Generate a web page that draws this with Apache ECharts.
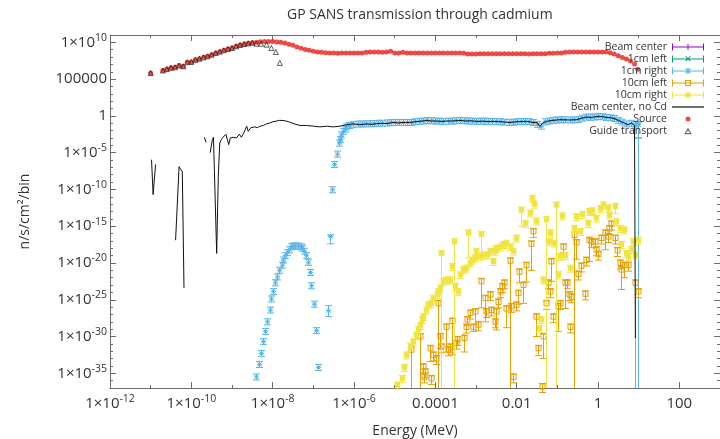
<!DOCTYPE html>
<html><head><meta charset="utf-8">
<script src="https://cdn.jsdelivr.net/npm/echarts@6/dist/echarts.min.js"></script>
<style>html,body{margin:0;padding:0;background:#fff}#c{width:720px;height:439px}</style>
</head><body><div id="c"></div>
<script>
// ---------- tick exponents (decades) ----------
const xMajorExp = [-12, -10, -8, -6, -4, -2, 0, 2];
const yMajorExp = [-35, -30, -25, -20, -15, -10, -5, 0, 5, 10];

// ---------- Source (red dots) ----------
const sourceEnergy = [
 1e-11, 2e-11, 2.51e-11, 3.16e-11, 3.98e-11, 5.01e-11, 6.31e-11, 7.94e-11,
 1e-10, 1.26e-10, 1.58e-10, 2e-10, 2.51e-10, 3.16e-10, 3.98e-10, 5.01e-10, 6.31e-10, 7.94e-10,
 1e-9, 1.26e-9, 1.58e-9, 2e-9, 2.51e-9, 3.16e-9, 3.98e-9, 5.01e-9, 6.31e-9, 7.94e-9,
 1e-8, 1.26e-8, 1.58e-8, 2e-8, 2.51e-8, 3.16e-8, 3.98e-8, 5.01e-8, 6.31e-8, 7.94e-8,
 1e-7, 1.26e-7, 1.58e-7, 2e-7, 2.51e-7, 3.16e-7, 3.98e-7, 5.01e-7, 6.31e-7, 7.94e-7,
 1e-6, 1.26e-6, 1.58e-6, 2e-6, 2.51e-6, 3.16e-6, 3.98e-6, 5.01e-6, 6.31e-6, 7.94e-6,
 1e-5, 1.26e-5, 1.58e-5, 2e-5, 2.51e-5, 3.16e-5, 3.98e-5, 5.01e-5, 6.31e-5, 7.94e-5,
 1e-4, 1.26e-4, 1.58e-4, 2e-4, 2.51e-4, 3.16e-4, 3.98e-4, 5.01e-4, 6.31e-4, 7.94e-4,
 1e-3, 1.26e-3, 1.58e-3, 2e-3, 2.51e-3, 3.16e-3, 3.98e-3, 5.01e-3, 6.31e-3, 7.94e-3,
 0.01, 0.0126, 0.0158, 0.02, 0.0251, 0.0316, 0.0398, 0.0501, 0.0631, 0.0794,
 0.1, 0.126, 0.158, 0.2, 0.251, 0.316, 0.398, 0.501, 0.631, 0.794,
 1, 1.26, 1.58, 2, 2.51, 3.16, 3.98, 5.01, 6.31, 7.94,
 9.55
];
const sourceFlux = [
 6.8e5, 1.5e6, 2.3e6, 3.5e6, 4.0e6, 7.1e6, 5.5e6, 2.0e7,
 2.2e7, 4.2e7, 6.0e7, 9.1e7, 1.26e8, 2.1e8, 3.5e8, 5.4e8, 8.3e8, 1.26e9,
 1.7e9, 2.9e9, 4.4e9, 6.0e9, 7.4e9, 9.1e9, 1.0e10, 1.2e10, 1.26e10, 1.26e10,
 1.26e10, 1.1e10, 1.0e10, 8.1e9, 5.6e9, 4.0e9, 2.3e9, 1.55e9, 1.1e9, 8.3e8,
 6.0e8, 4.9e8, 4.4e8, 4.0e8, 3.5e8, 3.5e8, 3.4e8, 3.5e8, 3.5e8, 3.5e8,
 3.5e8, 3.5e8, 3.6e8, 4.4e8, 4.9e8, 4.9e8, 4.9e8, 4.4e8, 4.9e8, 6.0e8,
 3.5e8, 3.5e8, 4.4e8, 3.5e8, 3.5e8, 3.5e8, 3.5e8, 3.5e8, 3.5e8, 3.5e8,
 3.5e8, 3.5e8, 3.5e8, 3.5e8, 3.5e8, 3.5e8, 3.5e8, 3.4e8, 2.6e8, 2.6e8,
 2.6e8, 2.9e8, 2.9e8, 2.9e8, 2.9e8, 2.9e8, 2.8e8, 2.9e8, 2.9e8, 2.9e8,
 2.9e8, 2.9e8, 2.9e8, 2.6e8, 2.8e8, 2.9e8, 2.9e8, 2.9e8, 3.2e8, 3.2e8,
 3.5e8, 3.5e8, 4.4e8, 4.9e8, 4.9e8, 4.9e8, 4.9e8, 4.9e8, 4.9e8, 4.9e8,
 4.9e8, 4.9e8, 4.9e8, 4.0e8, 2.6e8, 1.5e8, 9.0e7, 5.5e7, 3.0e7, 1.1e7,
 2.2e6
];

// ---------- Guide transport (open triangles) ----------
const guideEnergy = [
 1e-11, 2e-11, 2.51e-11, 3.16e-11, 3.98e-11, 5.01e-11, 6.31e-11, 7.94e-11,
 1e-10, 1.26e-10, 1.58e-10, 2e-10, 2.51e-10, 3.16e-10, 3.98e-10, 5.01e-10, 6.31e-10, 7.94e-10,
 1e-9, 1.26e-9, 1.58e-9, 2e-9, 2.51e-9, 3.16e-9, 4.0e-9, 5.2e-9, 7.1e-9, 9.3e-9, 1.2e-8, 1.5e-8
];
const guideFlux = [
 6.8e5, 1.5e6, 2.3e6, 3.5e6, 4.0e6, 7.1e6, 5.5e6, 2.0e7,
 2.2e7, 4.2e7, 6.0e7, 9.1e7, 1.26e8, 2.1e8, 3.5e8, 5.4e8, 8.3e8, 1.26e9,
 1.7e9, 2.9e9, 4.4e9, 6.0e9, 7.4e9, 9.1e9, 6.6e9, 6.6e9, 4.9e9, 1.7e9, 4.9e8, 1.6e7
];

// ---------- Beam center, no Cd (black line, null = gap) ----------
const noCdEnergy = [
 1.05e-11, 1.15e-11, 1.32e-11, 2e-11, 4.1e-11, 5.0e-11, 5.5e-11, 6.0e-11, 6.6e-11, 1e-10,
 2.1e-10, 2.3e-10, 2.6e-10, 2.9e-10, 3.3e-10, 3.5e-10, 4.2e-10, 4.6e-10, 5.0e-10, 5.5e-10,
 6.0e-10, 7.1e-10, 7.6e-10, 8.3e-10, 9.1e-10, 1.07e-9, 1.29e-9, 1.51e-9, 1.7e-9, 1.95e-9,
 2.3e-9, 2.5e-9, 2.9e-9, 3.6e-9, 4.2e-9, 4.9e-9, 5.9e-9, 7.1e-9, 8.5e-9, 1.02e-8,
 1.25e-8, 1.5e-8, 2.0e-8, 2.6e-8, 3.5e-8, 4.7e-8, 6.8e-8, 1e-7, 1.45e-7, 2.1e-7,
 3.1e-7, 4.5e-7, 6.6e-7, 9.5e-7, 1.38e-6, 2.0e-6, 2.8e-6, 3.5e-6, 5.0e-6, 6.5e-6,
 9.1e-6, 1.2e-5, 1.6e-5, 2.3e-5, 3.0e-5, 4.0e-5, 6.0e-5, 8.0e-5, 1.0e-4, 1.55e-4,
 2.0e-4, 2.5e-4, 4.0e-4, 5.5e-4, 7.0e-4, 1.02e-3, 1.5e-3, 2.0e-3, 2.63e-3, 4.0e-3,
 6.8e-3, 8.5e-3, 1.12e-2, 1.74e-2, 2.5e-2, 3.2e-2, 3.7e-2, 4.5e-2, 5.4e-2, 7.9e-2,
 0.115, 0.2, 0.295, 0.4, 0.513, 0.7, 0.85, 1.1, 1.6, 2.34,
 3.16, 4.07, 5.5, 6.6, 7.9, 8.3
];
const noCdFlux = [
 1.1e-6, 2.0e-11, 2.5e-7, null, 1.26e-17, 1.26e-7, 7.9e-8, 2.5e-8, 4.0e-24, null,
 1.26e-3, 2.5e-4, null, 1e-5, 6.3e-4, 1.26e-3, 2.0e-19, 6.3e-9, 2.0e-4, 6.3e-4,
 1.26e-3, 3.2e-3, 2.5e-3, 1.26e-4, 1e-3, 1.26e-3, 1e-3, 3.2e-3, 1.26e-3, 5.0e-3,
 4.0e-2, 7.9e-3, 2.5e-2, 3.2e-2, 2.5e-2, 4.0e-2, 5.0e-2, 8.5e-2, 0.11, 0.16,
 0.2, 0.25, 0.22, 0.145, 0.079, 0.05, 0.05, 0.04, 0.032, 0.04,
 0.032, 0.04, 0.063, 0.085, 0.063, 0.079, 0.07, 0.085, 0.1, 0.09,
 0.13, 0.11, 0.126, 0.13, 0.15, 0.18, 0.24, 0.2, 0.2, 0.18,
 0.21, 0.2, 0.24, 0.2, 0.22, 0.18, 0.19, 0.17, 0.18, 0.16,
 0.13, 0.15, 0.16, 0.18, 0.13, 0.12, 0.037, 0.12, 0.18, 0.25,
 0.3, 0.28, 0.3, 0.5, 0.69, 0.63, 0.75, 0.85, 0.63, 0.5,
 0.25, 0.13, 0.063, 0.107, 0.05, 6.3e-31
];

// ---------- 1cm right (light blue asterisks) ----------
const rightEnergy = [
 3.98e-9, 4.57e-9, 5.13e-9, 5.89e-9, 6.46e-9, 7.41e-9, 8.51e-9, 9.33e-9,
 1.02e-8, 1.12e-8, 1.29e-8, 1.45e-8, 1.66e-8, 1.82e-8, 2.0e-8, 2.19e-8, 2.51e-8, 2.82e-8,
 3.16e-8, 3.63e-8, 4.27e-8, 4.9e-8, 5.37e-8, 5.89e-8, 6.61e-8, 7.24e-8, 8.13e-8, 8.91e-8,
 1.02e-7, 1.15e-7, 1.29e-7, 2.29e-7, 2.57e-7, 2.88e-7, 3.24e-7, 3.72e-7, 4.27e-7, 4.47e-7,
 4.9e-7, 5.37e-7, 5.89e-7, 6.46e-7, 7.59e-7, 9.55e-7,
 1.26e-6, 1.58e-6, 2e-6, 2.51e-6, 3.16e-6, 3.98e-6, 5.01e-6, 6.31e-6, 7.94e-6,
 1e-5, 1.26e-5, 1.58e-5, 2e-5, 2.51e-5, 3.16e-5, 3.98e-5, 5.01e-5, 6.31e-5, 7.94e-5,
 1e-4, 1.26e-4, 1.58e-4, 2e-4, 2.51e-4, 3.16e-4, 3.98e-4, 5.01e-4, 6.31e-4, 7.94e-4,
 1e-3, 1.26e-3, 1.58e-3, 2e-3, 2.51e-3, 3.16e-3, 3.98e-3, 5.01e-3, 6.31e-3, 7.94e-3,
 0.01, 0.0126, 0.0158, 0.02, 0.0251, 0.0316, 0.0398, 0.0501, 0.0631, 0.0794,
 0.1, 0.126, 0.158, 0.2, 0.251, 0.316, 0.398, 0.501, 0.631, 0.794,
 1, 1.26, 1.58, 2, 2.51, 3.16, 3.98, 5.01, 6.31, 7.94,
 9.55
];
const rightFlux = [
 3.2e-36, 1.6e-34, 5.0e-33, 2.0e-31, 5.0e-30, 1e-28, 4.0e-27, 1.26e-25,
 1.26e-24, 2.0e-23, 1.26e-22, 1e-21, 5.0e-21, 2.5e-20, 1e-19, 2.5e-19, 6.3e-19, 1.6e-18,
 2.0e-18, 2.0e-18, 2.0e-18, 1.6e-18, 1e-18, 4.0e-19, 1e-19, 1.26e-20, 5.0e-22, 7.9e-24,
 2.5e-26, 6.3e-30, 6.3e-35, 3.2e-27, 4.0e-17, 8.9e-11, 2.5e-7, 6.3e-6, 2.0e-4, 6.3e-4,
 2.5e-3, 7.9e-3, 1.6e-2, 3.2e-2, 5.0e-2, 6.3e-2,
 0.079, 0.079, 0.085, 0.085, 0.09, 0.1, 0.1, 0.11, 0.12,
 0.13, 0.13, 0.126, 0.13, 0.13, 0.16, 0.18, 0.2, 0.24, 0.22,
 0.2, 0.19, 0.18, 0.19, 0.2, 0.22, 0.24, 0.22, 0.2, 0.19,
 0.18, 0.19, 0.19, 0.18, 0.18, 0.17, 0.16, 0.14, 0.13, 0.14,
 0.16, 0.17, 0.18, 0.16, 0.13, 0.07, 0.04, 0.16, 0.2, 0.25,
 0.28, 0.3, 0.29, 0.28, 0.29, 0.32, 0.5, 0.69, 0.66, 0.7,
 0.85, 0.75, 0.63, 0.55, 0.45, 0.25, 0.14, 0.08, 0.1, 0.06,
 0.07
];
const rightBarEnergy = [2.29e-7, 2.57e-7, 9.55];
const rightBarLow = [5e-28, 4e-18, 0];
const rightBarHigh = [1.6e-26, 6.3e-17, null];

// ---------- 1cm left (green) ----------
const left1Energy = [9.8];
const left1Flux = [0.06];
const left1BarEnergy = [9.8];
const left1BarLow = [1e-3];

// ---------- Beam center (purple): no visible points ----------
const beamEnergy = [];
const beamFlux = [];

// ---------- 10cm left (orange open squares) ----------
const left10Energy = [
 2.57e-5, 4.17e-5, 5.01e-5, 5.25e-5, 5.5e-5, 7.24e-5, 7.94e-5, 8.71e-5, 1.02e-4, 1.17e-4,
 1.29e-4, 1.41e-4, 1.82e-4, 2.04e-4, 2.24e-4, 2.63e-4, 3.16e-4, 3.47e-4, 5.01e-4, 5.62e-4,
 6.03e-4, 7.08e-4, 8.51e-4, 9.33e-4, 1.12e-3, 1.32e-3, 1.66e-3, 1.78e-3, 2.19e-3, 2.4e-3,
 2.88e-3, 3.02e-3, 3.47e-3, 3.98e-3, 4.47e-3, 5.01e-3, 5.5e-3, 6.76e-3, 7.41e-3, 8.13e-3,
 9.77e-3, 1.05e-2, 1.17e-2, 1.45e-2, 1.74e-2, 2.29e-2, 2.51e-2, 2.95e-2, 3.39e-2, 4.27e-2,
 4.37e-2, 5.13e-2, 5.89e-2, 6.46e-2, 7.08e-2, 7.76e-2, 0.102, 0.115, 0.138, 0.151,
 0.174, 0.195, 0.2, 0.219, 0.263, 0.295, 0.324, 0.372, 0.468, 0.513,
 0.589, 0.676, 0.832, 0.871, 1.0, 1.2, 1.45, 1.78, 1.91, 2.14,
 2.69, 2.88, 3.39, 3.72, 4.47, 5.5, 8.32, 9.55
];
const left10Flux = [
 1.6e-32, 1e-30, 7.9e-35, 3.2e-36, 1.6e-35, 2.5e-32, 2.0e-36, 3.2e-33, 1e-33, 3.2e-26,
 1e-30, 4.0e-32, 2.0e-29, 1.6e-32, 4.0e-32, 1.26e-28, 1.26e-31, 4.0e-31, 6.3e-31, 2.0e-29,
 2.0e-28, 1.6e-27, 2.0e-29, 2.5e-27, 4.0e-29, 3.2e-23, 1.6e-25, 2.5e-27, 5.0e-25, 4.0e-27,
 1e-28, 2.5e-27, 5.0e-26, 1.26e-24, 6.3e-24, 2.0e-23, 6.3e-27, 2.0e-20, 1.26e-26, 3.2e-36,
 2.0e-26, 7.9e-25, 6.3e-22, 1e-23, 5.0e-21, 4.0e-18, 2.0e-16, 5.0e-28, 2.5e-32, 1.6e-37,
 1e-30, 3.2e-26, 2.0e-23, 1.26e-24, 1.6e-20, 5.0e-28, 1.26e-26, 3.2e-26, 1.6e-18, 2.0e-23,
 2.0e-23, 5.0e-25, 2.0e-29, 2.5e-25, 6.3e-17, 6.3e-18, 3.2e-22, 4.0e-21, 6.3e-25, 2.5e-20,
 1.26e-17, 7.9e-18, 7.9e-18, 6.3e-19, 1.6e-19, 2.5e-17, 1.26e-16, 4.0e-17, 5.0e-16, 2.0e-15,
 2.5e-17, 5.0e-19, 1e-20, 1.26e-21, 5.0e-21, 5.0e-21, 2.0e-23, 1.26e-24
];
const left10BarEnergy = [2.57e-5, 4.17e-5, 7.24e-5, 1.17e-4, 1.29e-4, 1.82e-4, 2.63e-4, 5.01e-4, 8.51e-4, 9.33e-4,
 1.32e-3, 1.66e-3, 3.02e-3, 5.5e-3, 6.76e-3, 1.05e-2, 1.17e-2, 1.45e-2, 1.74e-2, 2.29e-2,
 2.95e-2, 3.39e-2, 4.37e-2, 7.08e-2, 0.102, 0.151, 0.263, 0.295, 0.589, 1.45, 3.72, 4.47, 8.32];
const left10BarLow = [0, 0, 4.0e-34, 0, 2.5e-32, 7.9e-33, 3.2e-33, 7.9e-33, 5.0e-30, 4.0e-29,
 7.9e-27, 1e-28, 7.9e-30, 1.6e-29, 0, 2.5e-26, 2.0e-23, 3.2e-26, 2.5e-23, 1e-21,
 1e-30, 2.5e-33, 1e-33, 3.2e-23, 5.0e-30, 6.3e-27, 0, 3.2e-20, 1.6e-20, 6.3e-19, 2.5e-24, 1e-22, 0];

// ---------- 10cm right (yellow filled squares) ----------
const right10Energy = [
 1.12e-5, 1.48e-5, 1.66e-5, 1.95e-5, 2.4e-5, 2.82e-5, 3.31e-5, 3.8e-5, 4.17e-5, 4.57e-5,
 5.01e-5, 6.03e-5, 6.61e-5, 7.94e-5, 8.71e-5, 1.07e-4, 1.17e-4, 1.29e-4, 1.41e-4, 1.55e-4,
 1.86e-4, 2.24e-4, 2.63e-4, 2.82e-4, 3.02e-4, 3.63e-4, 3.98e-4, 4.79e-4, 5.75e-4, 6.46e-4,
 7.08e-4, 8.13e-4, 9.33e-4, 1.02e-3, 1.23e-3, 1.32e-3, 1.48e-3, 1.82e-3, 2.19e-3, 2.63e-3,
 2.88e-3, 3.16e-3, 3.8e-3, 4.57e-3, 5.5e-3, 6.76e-3, 8.13e-3, 9.77e-3, 1.26e-2, 1.58e-2,
 2.09e-2, 2.4e-2, 2.69e-2, 3.02e-2, 3.55e-2, 4.07e-2, 4.37e-2, 5.13e-2, 6.17e-2, 6.46e-2,
 8.51e-2, 9.33e-2, 0.102, 0.115, 0.132, 0.158, 0.2, 0.263, 0.295, 0.355,
 0.407, 0.562, 0.617, 0.724, 0.912, 1.1, 1.32, 1.78, 1.91, 2.69,
 2.82, 3.39, 3.72, 4.47, 4.79, 5.5, 6.61, 7.24, 7.94, 9.55
];
const right10Flux = [
 2.5e-37, 2.0e-36, 6.3e-35, 3.2e-33, 5.0e-32, 2.0e-31, 1.6e-30, 1e-29, 3.2e-29, 2.0e-28,
 5.0e-28, 4.0e-27, 2.0e-26, 3.2e-26, 1.6e-25, 5.0e-25, 1.26e-24, 4.0e-24, 2.0e-19, 3.2e-23,
 5.0e-23, 5.0e-23, 3.2e-21, 7.9e-18, 6.3e-24, 1.26e-24, 2.5e-22, 1.26e-21, 2.0e-21, 1.26e-16,
 1e-20, 2.5e-20, 5.0e-20, 4.0e-19, 7.9e-20, 7.9e-17, 1.26e-19, 1.26e-19, 4.0e-19, 1.6e-20,
 4.0e-19, 1e-18, 1.6e-18, 3.2e-18, 5.0e-18, 1.6e-18, 4.0e-19, 2.5e-17, 1.6e-13, 2.5e-15,
 6.3e-14, 6.3e-12, 1e-12, 5.0e-15, 1.26e-29, 2.0e-28, 5.0e-23, 7.9e-15, 7.9e-18, 1.26e-16,
 5.0e-18, 7.9e-13, 2.5e-22, 7.9e-20, 2.5e-14, 1e-19, 2.0e-21, 5.0e-16, 2.0e-14, 2.0e-16,
 4.0e-14, 2.5e-15, 1e-13, 1.26e-13, 1.26e-14, 2.5e-13, 7.9e-13, 3.2e-13, 3.2e-14, 5.0e-13,
 4.0e-15, 5.0e-16, 3.2e-18, 3.2e-16, 2.0e-19, 7.9e-20, 6.3e-19, 7.9e-18, 1.26e-19, 1.26e-17
];
const right10BarEnergy = [1.41e-4, 2.82e-4, 6.46e-4, 1.32e-3, 1.26e-2, 5.13e-2, 9.33e-2, 2.69];
const right10BarLow = [0, 0, 5.0e-20, 1.6e-19, 1e-15, 0, 0, 5.0e-14];

// ---------- styling ----------
const FONT = '"Open Sans", "DejaVu Sans", sans-serif';
const AX = '#6b6b6b';
const TXT = '#333';
const C = { beam: '#9400d3', left1: '#009e73', right1: '#56b4e9', left10: '#e69f00', right10: '#f0e442', nocd: '#111', source: '#e8211c', guide: '#222' };

function expLabel(n) {
  if (n >= -4 && n <= 5) return n >= 0 ? '1' + '0'.repeat(n) : '0.' + '0'.repeat(-n - 1) + '1';
  return '1×10{s|' + n + '}';
}
const labelStyle = {
  fontSize: 15, color: TXT, fontFamily: FONT, lineHeight: 20,
  rich: { s: { fontSize: 10.5, color: TXT, fontFamily: FONT, verticalAlign: 'top', lineHeight: 11 } }
};

function pairs(E, F) { return E.map((e, i) => [e, F[i]]); }
function withBars(E, F, bE, bLo, bHi) {
  return E.map((e, i) => {
    const k = bE ? bE.indexOf(e) : -1;
    return [e, F[i], k >= 0 && bLo ? bLo[k] : null, k >= 0 && bHi ? bHi[k] : null];
  });
}
function ln(x1, y1, x2, y2, s) { return { type: 'line', shape: { x1, y1, x2, y2 }, style: s }; }
function markerShapes(kind, x, y, color) {
  const s = { stroke: color, lineWidth: 1, fill: 'none' };
  const r = 2.5, d = 2;
  if (kind === 'plus') return [ln(x - r, y, x + r, y, s), ln(x, y - r, x, y + r, s)];
  if (kind === 'cross') return [ln(x - d, y - d, x + d, y + d, s), ln(x - d, y + d, x + d, y - d, s)];
  if (kind === 'star') return [ln(x - r, y, x + r, y, s), ln(x, y - r, x, y + r, s), ln(x - d, y - d, x + d, y + d, s), ln(x - d, y + d, x + d, y - d, s)];
  if (kind === 'openSquare') return [{ type: 'rect', shape: { x: x - r, y: y - r, width: 2 * r, height: 2 * r }, style: s }];
  return [{ type: 'rect', shape: { x: x - r, y: y - r, width: 2 * r, height: 2 * r }, style: { fill: color, stroke: color, lineWidth: 0.5 } }];
}
function glyph(kind, color, up, down) {
  return function (params, api) {
    const e = api.value(0), f = api.value(1), lo = api.value(2), hi = api.value(3);
    const p = api.coord([e, f]);
    const cs = params.coordSys;
    const bottom = cs.y + cs.height;
    const x = Math.round(p[0]) + 0.5, y = p[1];
    let yTop = y - up, yBot = y + down, botCap = true;
    if (hi != null && !isNaN(hi)) yTop = api.coord([e, hi])[1];
    if (lo != null && !isNaN(lo)) {
      if (lo > 0) yBot = Math.min(api.coord([e, lo])[1], bottom);
      else { yBot = bottom; botCap = false; }
    }
    const st = { stroke: color, lineWidth: 1, fill: 'none' };
    const kids = [ln(x, yTop, x, yBot, st), ln(x - 3.5, yTop, x + 3.5, yTop, st)];
    if (botCap) kids.push(ln(x - 3.5, yBot, x + 3.5, yBot, st));
    return { type: 'group', children: kids.concat(markerShapes(kind, x, y, color)) };
  };
}
function errSeries(name, data, kind, color, up, down) {
  return { name, type: 'custom', xAxisIndex: 0, yAxisIndex: 0, data, renderItem: glyph(kind, color, up, down),
    itemStyle: { color }, silent: true };
}

// legend icons (32x10 boxes)
const ERR = 'M0,4.5h32v1h-32z M0,1.5h1v7h-1z M31,1.5h1v7h-1z';
const PLUS = ' M15.5,2h1v6h-1z';
const XX = ' M13.3,2.7l0.7,-0.7l4.7,4.7l-0.7,0.7z M18,2l0.7,0.7l-4.7,4.7l-0.7,-0.7z';
const ICON = {
  beam: 'path://' + ERR + PLUS,
  left1: 'path://' + ERR + XX,
  right1: 'path://' + ERR + PLUS + XX,
  left10: 'path://' + ERR + ' M13,2h6v6h-6z M14,3v4h4v-4z',
  right10: 'path://' + ERR + ' M13.5,2.5h5v5h-5z',
  nocd: 'path://M0,4.4h32v1.2h-32z',
  source: 'path://M0,0M32,10M13.5,5a2.5,2.5,0,1,0,5,0a2.5,2.5,0,1,0,-5,0z',
  guide: 'path://M0,0M32,10M16,1.8L19.6,8.2H12.4Z M16,3.9L13.9,7.3H18.1Z'
};

function decoAxis(dim, pos, min, max, major, withLabels, extra) {
  const base = {
    type: 'value', min, max, position: pos,
    axisLine: { show: !!major, onZero: false, lineStyle: { color: AX, width: 1 } },
    axisTick: { show: true, inside: true, length: major ? 6 : 3, lineStyle: { color: AX, width: 1 } },
    axisLabel: { show: false },
    splitLine: { show: false }, splitArea: { show: false },
    silent: true
  };
  if (major) base.axisTick.customValues = major; else base.interval = 1;
  if (withLabels) {
    base.axisLabel = Object.assign({ show: true, customValues: major, formatter: expLabel }, labelStyle,
      dim === 'x' ? { margin: 6 } : { margin: 3 });
  }
  return Object.assign(base, extra || {});
}

const option = {
  animation: false,
  backgroundColor: '#fff',
  title: { text: 'GP SANS transmission through cadmium', left: 282, top: 3,
    textStyle: { fontSize: 14, fontWeight: 'normal', color: TXT, fontFamily: FONT } },
  grid: { left: 110, right: 0, top: 35, bottom: 51, containLabel: false, outerBoundsMode: 'none' },
  xAxis: [
    { type: 'log', logBase: 10, min: 1e-12, max: 1e3, show: false },
    decoAxis('x', 'bottom', -12, 3, xMajorExp, true, { name: 'Energy (MeV)', nameLocation: 'middle', nameGap: 36,
      nameTextStyle: { fontSize: 14, color: TXT, fontFamily: FONT } }),
    decoAxis('x', 'bottom', -12, 3, null, false),
    decoAxis('x', 'top', -12, 3, xMajorExp, false),
    decoAxis('x', 'top', -12, 3, null, false)
  ],
  yAxis: [
    { type: 'log', logBase: 10, min: 1e-37, max: 1e11, show: false },
    decoAxis('y', 'left', -37, 11, yMajorExp, true, { name: 'n/s/cm²/bin', nameLocation: 'middle', nameGap: 78,
      nameTextStyle: { fontSize: 14, color: TXT, fontFamily: FONT } }),
    decoAxis('y', 'left', -37, 11, null, false),
    decoAxis('y', 'right', -37, 11, yMajorExp, false),
    decoAxis('y', 'right', -37, 11, null, false)
  ],
  legend: {
    orient: 'vertical', align: 'right', right: 16, top: 41, padding: 0, itemGap: 0,
    itemWidth: 32, itemHeight: 10, selectedMode: false,
    textStyle: { fontSize: 10.5, color: TXT, fontFamily: FONT, lineHeight: 12 },
    data: [
      { name: 'Beam center', icon: ICON.beam, itemStyle: { color: C.beam, borderWidth: 0 } },
      { name: '1cm left', icon: ICON.left1, itemStyle: { color: C.left1, borderWidth: 0 } },
      { name: '1cm right', icon: ICON.right1, itemStyle: { color: C.right1, borderWidth: 0 } },
      { name: '10cm left', icon: ICON.left10, itemStyle: { color: C.left10, borderWidth: 0 } },
      { name: '10cm right', icon: ICON.right10, itemStyle: { color: C.right10, borderWidth: 0 } },
      { name: 'Beam center, no Cd', icon: ICON.nocd, itemStyle: { color: C.nocd, borderWidth: 0 } },
      { name: 'Source', icon: ICON.source, itemStyle: { color: C.source, borderWidth: 0 } },
      { name: 'Guide transport', icon: ICON.guide, itemStyle: { color: C.guide, borderWidth: 0 } }
    ]
  },
  series: [
    errSeries('Beam center', withBars(beamEnergy, beamFlux), 'plus', C.beam, 3, 3),
    errSeries('1cm left', withBars(left1Energy, left1Flux, left1BarEnergy, left1BarLow), 'cross', C.left1, 3, 3),
    errSeries('1cm right', withBars(rightEnergy, rightFlux, rightBarEnergy, rightBarLow, rightBarHigh), 'star', C.right1, 3, 3),
    errSeries('10cm left', withBars(left10Energy, left10Flux, left10BarEnergy, left10BarLow), 'openSquare', C.left10, 3, 6),
    errSeries('10cm right', withBars(right10Energy, right10Flux, right10BarEnergy, right10BarLow), 'square', C.right10, 3, 4),
    { name: 'Beam center, no Cd', type: 'line', xAxisIndex: 0, yAxisIndex: 0, data: pairs(noCdEnergy, noCdFlux),
      showSymbol: false, symbol: 'none', connectNulls: false, silent: true,
      lineStyle: { color: C.nocd, width: 1 }, itemStyle: { color: C.nocd } },
    { name: 'Source', type: 'scatter', xAxisIndex: 0, yAxisIndex: 0, data: pairs(sourceEnergy, sourceFlux),
      symbol: 'circle', symbolSize: 5, silent: true, itemStyle: { color: C.source } },
    { name: 'Guide transport', type: 'scatter', xAxisIndex: 0, yAxisIndex: 0, data: pairs(guideEnergy, guideFlux),
      symbol: 'triangle', symbolSize: 5, silent: true,
      itemStyle: { color: 'transparent', borderColor: C.guide, borderWidth: 0.9 } }
  ]
};
const chart = echarts.init(document.getElementById('c'));
chart.setOption(option);
</script></body></html>
